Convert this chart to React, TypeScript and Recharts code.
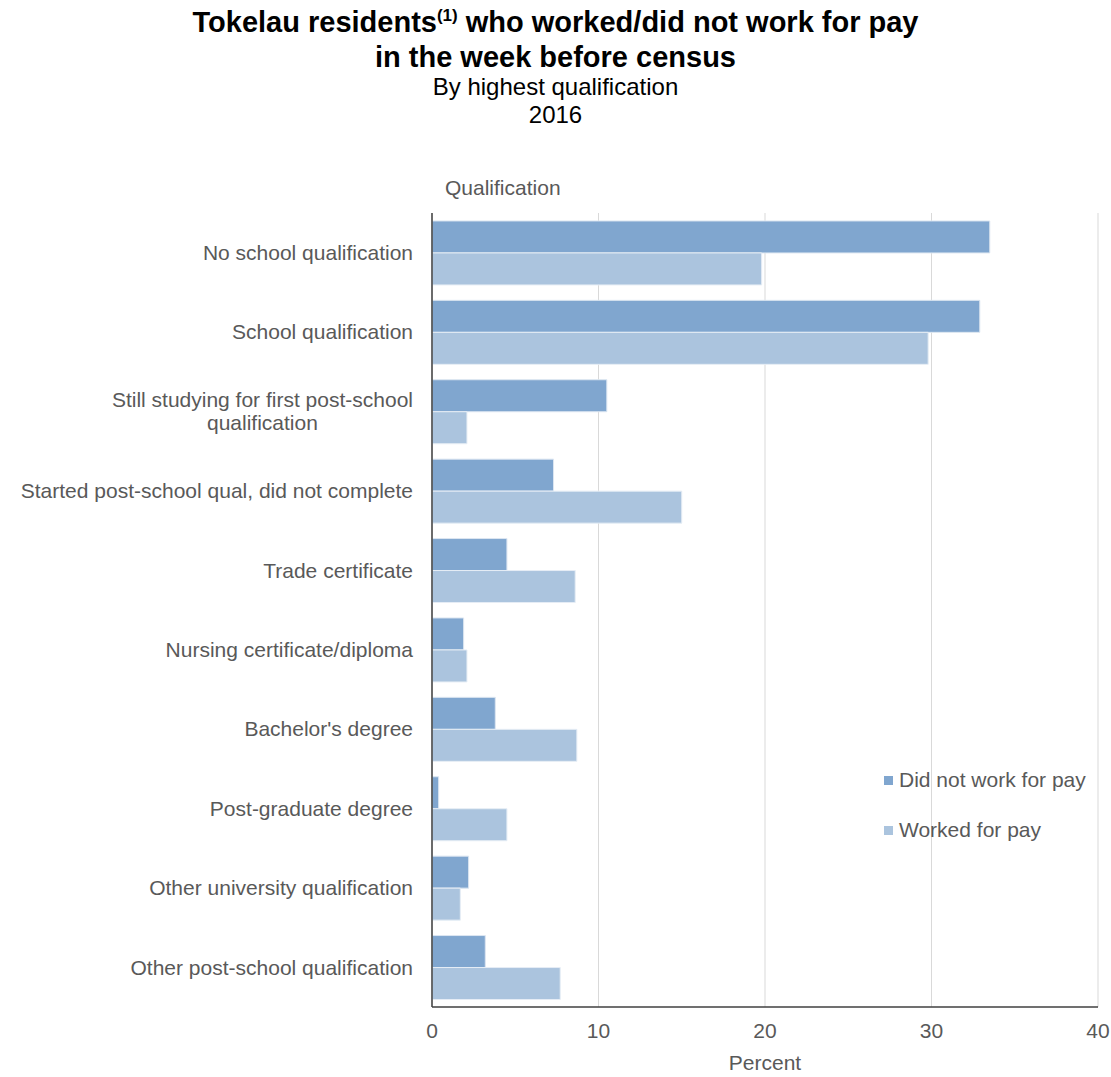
import React from "react";
import { Bar, BarChart, CartesianGrid, XAxis, YAxis, Legend } from "recharts";

const categories = [
  "No school qualification",
  "School qualification",
  "Still studying for first post-school qualification",
  "Started post-school qual, did not complete",
  "Trade certificate",
  "Nursing certificate/diploma",
  "Bachelor's degree",
  "Post-graduate degree",
  "Other university qualification",
  "Other post-school qualification",
];

const didNotWork = [33.5, 32.9, 10.5, 7.3, 4.5, 1.9, 3.8, 0.4, 2.2, 3.2];
const worked = [19.8, 29.8, 2.1, 15.0, 8.6, 2.1, 8.7, 4.5, 1.7, 7.7];

const xTicks = [0, 10, 20, 30, 40];

const data = categories.map((name, i) => ({
  name,
  didNotWork: didNotWork[i],
  worked: worked[i],
}));

const FONT = "'Liberation Sans', Arial, sans-serif";
const GREY = "#595959";
const DARK = "#80A6CF";
const LIGHT = "#ABC4DE";

let ctx: CanvasRenderingContext2D | null = null;
const measure = (s: string) => {
  if (!ctx) ctx = document.createElement("canvas").getContext("2d");
  if (!ctx) return s.length * 10;
  ctx.font = `21px ${FONT}`;
  return ctx.measureText(s).width;
};

// greedy wrap, then center the lines in a right aligned block like Excel does
const wrap = (label: string, maxW: number) => {
  const words = label.split(" ");
  const lines: string[] = [];
  let cur = "";
  words.forEach((w) => {
    const next = cur ? cur + " " + w : w;
    if (cur && measure(next) > maxW) {
      lines.push(cur);
      cur = w;
    } else cur = next;
  });
  if (cur) lines.push(cur);
  return lines;
};

const CategoryTick = (props: any) => {
  const { x, y, payload } = props;
  const lines = wrap(payload.value, 410);
  const blockW = Math.max(...lines.map(measure));
  const cx = x - blockW / 2;
  const lh = 23;
  const startY = y - ((lines.length - 1) * lh) / 2;
  return (
    <g>
      {lines.map((l, i) => (
        <text
          key={i}
          x={cx}
          y={startY + i * lh}
          dy="0.35em"
          textAnchor="middle"
          fill={GREY}
          fontSize={21}
          fontFamily={FONT}
        >
          {l}
        </text>
      ))}
    </g>
  );
};

const LegendBox = () => (
  <div style={{ fontFamily: FONT, fontSize: 21, color: GREY }}>
    {[
      { c: DARK, t: "Did not work for pay" },
      { c: LIGHT, t: "Worked for pay" },
    ].map((it) => (
      <div key={it.t} style={{ display: "flex", alignItems: "center", height: 50 }}>
        <span style={{ width: 9, height: 9, background: it.c, marginRight: 6 }} />
        <span>{it.t}</span>
      </div>
    ))}
  </div>
);

export default function App() {
  return (
    <div style={{ position: "absolute", left: 0, top: 0, width: 1111, height: 1077, background: "#fff", fontFamily: FONT }}>
      <div style={{ position: "absolute", top: 5, left: 0, width: 1111, textAlign: "center", fontWeight: "bold", fontSize: 29, lineHeight: "35px", color: "#000" }}>
        <div>
          Tokelau residents<sup style={{ fontSize: 17, lineHeight: 0 }}>(1)</sup> who worked/did not work for pay
        </div>
        <div>in the week before census</div>
      </div>
      <div style={{ position: "absolute", top: 73, left: 0, width: 1111, textAlign: "center", fontSize: 24, lineHeight: "28px", color: "#000" }}>
        <div>By highest qualification</div>
        <div>2016</div>
      </div>
      <div style={{ position: "absolute", top: 176, left: 445, fontSize: 21, color: GREY, lineHeight: "24px" }}>
        Qualification
      </div>
      <BarChart
        width={1111}
        height={1077}
        data={data}
        layout="vertical"
        margin={{ top: 213, right: 13, bottom: 10, left: 0 }}
        barCategoryGap="10%"
        barGap={0}
      >
        <CartesianGrid horizontal={false} stroke="#d9d9d9" />
        <XAxis
          type="number"
          domain={[0, 40]}
          ticks={xTicks}
          height={60}
          tickLine={false}
          tickMargin={10}
          axisLine={{ stroke: "#404040", strokeWidth: 1.5 }}
          tick={{ fill: GREY, fontSize: 21, fontFamily: FONT }}
          label={{ value: "Percent", position: "insideBottom", offset: -3, fill: GREY, fontSize: 21, fontFamily: FONT }}
        />
        <YAxis
          type="category"
          dataKey="name"
          width={432}
          tickLine={false}
          tickMargin={13}
          axisLine={{ stroke: "#404040", strokeWidth: 1.5 }}
          tick={<CategoryTick />}
          interval={0}
        />
        <Legend
          layout="vertical"
          align="center"
          verticalAlign="middle"
          content={<LegendBox />}
          wrapperStyle={{ left: 884, top: 755, width: 220 }}
        />
        <Bar dataKey="didNotWork" name="Did not work for pay" fill={DARK} stroke="#dce6f1" strokeWidth={1} isAnimationActive={false} />
        <Bar dataKey="worked" name="Worked for pay" fill={LIGHT} stroke="#e6edf5" strokeWidth={1} isAnimationActive={false} />
      </BarChart>
    </div>
  );
}
